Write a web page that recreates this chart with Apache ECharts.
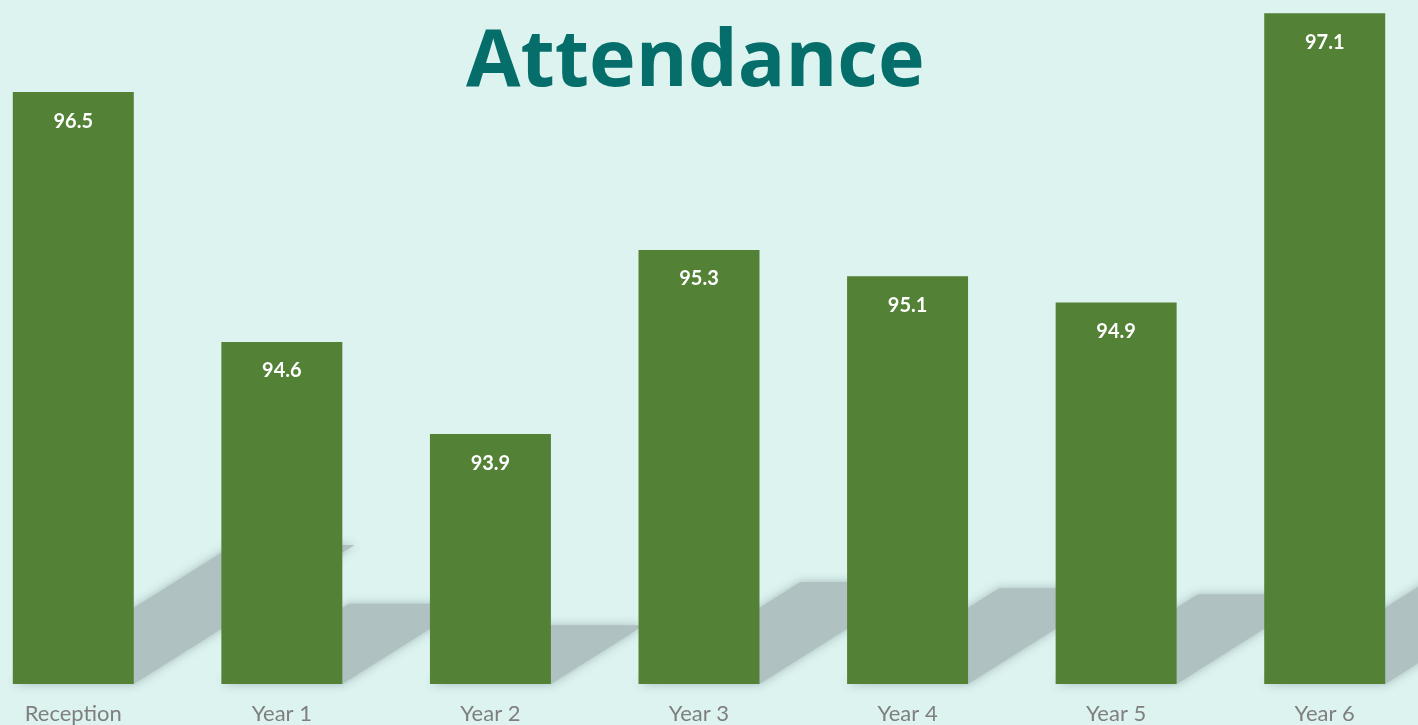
<!DOCTYPE html>
<html>
<head>
<meta charset="utf-8">
<title>Attendance</title>
<script src="https://cdn.jsdelivr.net/npm/echarts@6/dist/echarts.min.js"></script>
<style>
	html, body { margin: 0; padding: 0; background: #dcf3f0; }
	#chart { width: 1418px; height: 725px; }
</style>
</head>
<body>
<div id="chart"></div>
<script>
// 数据
var categories = ['Reception', 'Year 1', 'Year 2', 'Year 3', 'Year 4', 'Year 5', 'Year 6'];
var attendance = [96.5, 94.6, 93.9, 95.3, 95.1, 94.9, 97.1];
var axisMin = 92;
var axisMax = 97.2;

var barRatio = 0.58;      // 柱宽占类目宽度
var shadowRatio = 0.235;  // 投影高度 / 柱高
var shadowSlope = 0.63;   // 投影倾斜

// 柱子后面的投影
function renderShadow(params, api) {
	var idx = api.value(0);
	var base = api.coord([idx, axisMin]);
	var top = api.coord([idx, api.value(1)]);
	var half = api.size([1, 0])[0] * barRatio / 2;
	var h = (base[1] - top[1]) * shadowRatio;
	var dx = h / shadowSlope;
	var l = base[0] - half, r = base[0] + half, y0 = base[1];
	return {
		type: 'polygon',
		shape: { points: [[l, y0], [r, y0], [r + dx, y0 - h], [l + dx, y0 - h]] },
		style: {
			fill: '#afc1c0',
			shadowBlur: 10,
			shadowColor: 'rgba(160,180,179,0.9)'
		}
	};
}

var chart = echarts.init(document.getElementById('chart'));

chart.setOption({
	backgroundColor: '#dcf3f0',
	animation: false,
	title: {
		text: 'Attendance',
		left: 461,
		top: 19,
		textStyle: {
			fontFamily: 'Open Sans',
			fontWeight: 'bold',
			fontSize: 79,
			color: '#066e6a'
		}
	},
	grid: {
		left: -31,
		right: -11,
		top: 0,
		bottom: 41,
		outerBoundsMode: 'none'
	},
	xAxis: {
		type: 'category',
		data: categories,
		axisLine: { show: false },
		axisTick: { show: false },
		axisLabel: {
			color: '#7f7f7f',
			fontFamily: 'Lato',
			fontSize: 22,
			margin: 19
		}
	},
	yAxis: {
		type: 'value',
		min: axisMin,
		max: axisMax,
		show: false,
		splitLine: { show: false }
	},
	series: [
		{
			type: 'custom',
			z: 1,
			silent: true,
			clip: false,
			renderItem: renderShadow,
			data: attendance.map(function (v, i) { return [i, v]; })
		},
		{
			type: 'bar',
			z: 2,
			barWidth: (barRatio * 100) + '%',
			itemStyle: { color: '#538135' },
			label: {
				show: true,
				position: 'insideTop',
				distance: 19,
				color: '#ffffff',
				fontFamily: 'Lato',
				fontWeight: 'bold',
				fontSize: 20
			},
			data: attendance
		}
	]
});
</script>
</body>
</html>
